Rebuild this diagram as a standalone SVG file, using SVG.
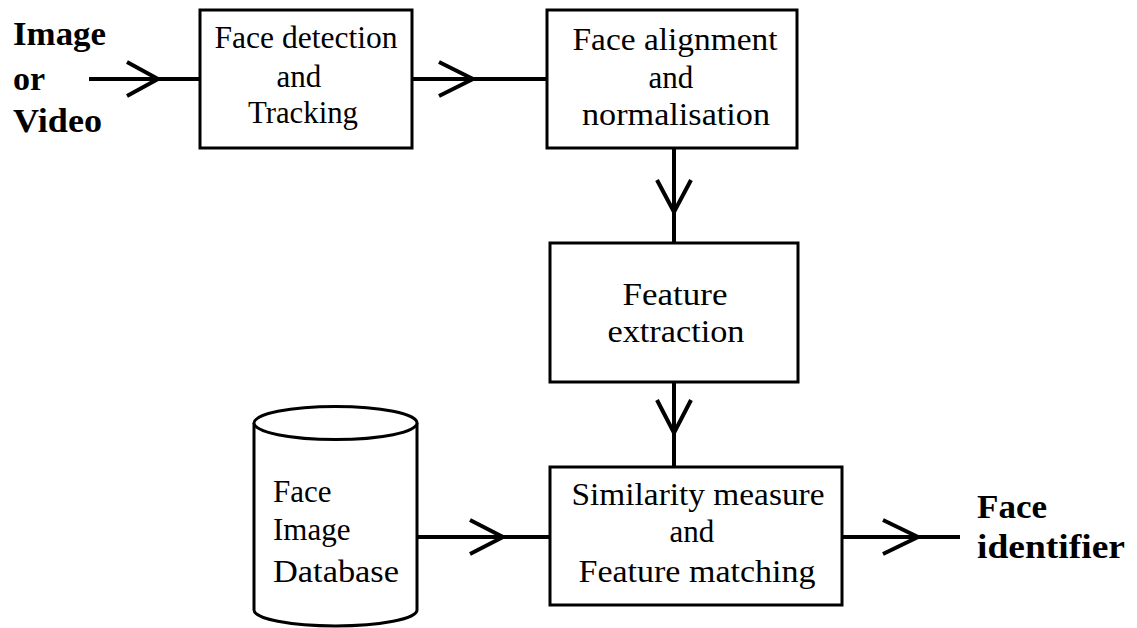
<svg xmlns="http://www.w3.org/2000/svg" width="1137" height="628" viewBox="0 0 1137 628">
<style>
.box{fill:#fff;stroke:#000;stroke-width:3}
.ln{fill:none;stroke:#000;stroke-width:4}
.hd{fill:none;stroke:#000;stroke-width:4;stroke-linejoin:miter}
.t{font-family:'Liberation Serif','DejaVu Serif',serif;font-size:31px;fill:#000;text-anchor:middle}
.tl{font-family:'Liberation Serif','DejaVu Serif',serif;font-size:31px;fill:#000}
.b{font-family:'Liberation Serif','DejaVu Serif',serif;font-size:34px;font-weight:bold;fill:#000}
</style>
<rect width="1137" height="628" fill="#fff"/>
<g id="connectors">
<line class="ln" x1="89" y1="79" x2="200" y2="79"/>
<polyline class="hd" points="127,62 158,79 127,96"/>
<line class="ln" x1="412" y1="79" x2="547" y2="79"/>
<polyline class="hd" points="439,62 473,79 439,96"/>
<line class="ln" x1="674" y1="148" x2="674" y2="243"/>
<polyline class="hd" points="657,180 674,212 691,180"/>
<line class="ln" x1="674" y1="382" x2="674" y2="467"/>
<polyline class="hd" points="657,400 674,433 691,400"/>
<line class="ln" x1="417" y1="537" x2="550" y2="537"/>
<polyline class="hd" points="470,520 503,537 470,554"/>
<line class="ln" x1="842" y1="537" x2="960" y2="537"/>
<polyline class="hd" points="883,520 918,537 883,554"/>
</g>
<g id="input">
<text class="b" x="13" y="45" textLength="93" lengthAdjust="spacingAndGlyphs">Image</text>
<text class="b" x="13" y="90">or</text>
<text class="b" x="13" y="132" textLength="89" lengthAdjust="spacingAndGlyphs">Video</text>
</g>
<g id="face-detection">
<rect class="box" x="200" y="10" width="212" height="138"/>
<text class="t" x="306" y="48" textLength="183" lengthAdjust="spacingAndGlyphs">Face detection</text>
<text class="t" x="299" y="87">and</text>
<text class="t" x="303" y="123" textLength="110" lengthAdjust="spacingAndGlyphs">Tracking</text>
</g>
<g id="face-alignment">
<rect class="box" x="547" y="10" width="250" height="138"/>
<text class="t" x="675" y="50" textLength="205" lengthAdjust="spacingAndGlyphs">Face alignment</text>
<text class="t" x="671" y="88">and</text>
<text class="t" x="676" y="125" textLength="188" lengthAdjust="spacingAndGlyphs">normalisation</text>
</g>
<g id="feature-extraction">
<rect class="box" x="550" y="243" width="248" height="139"/>
<text class="t" x="675" y="305" textLength="105" lengthAdjust="spacingAndGlyphs">Feature</text>
<text class="t" x="676" y="342" textLength="137" lengthAdjust="spacingAndGlyphs">extraction</text>
</g>
<g id="database">
<path class="box" d="M254,423 L254,610 A81.5,16 0 0 0 417,610 L417,423"/>
<ellipse class="box" cx="335.5" cy="423" rx="81.5" ry="16.5"/>
<text class="tl" x="273" y="502">Face</text>
<text class="tl" x="273" y="540">Image</text>
<text class="tl" x="273" y="582" textLength="126" lengthAdjust="spacingAndGlyphs">Database</text>
</g>
<g id="similarity">
<rect class="box" x="550" y="467" width="292" height="138"/>
<text class="t" x="698" y="505" textLength="253" lengthAdjust="spacingAndGlyphs">Similarity measure</text>
<text class="t" x="692" y="542">and</text>
<text class="t" x="697" y="582" textLength="237" lengthAdjust="spacingAndGlyphs">Feature matching</text>
</g>
<g id="output">
<text class="b" x="977" y="518" textLength="70" lengthAdjust="spacingAndGlyphs">Face</text>
<text class="b" x="977" y="558" textLength="148" lengthAdjust="spacingAndGlyphs">identifier</text>
</g>
</svg>
